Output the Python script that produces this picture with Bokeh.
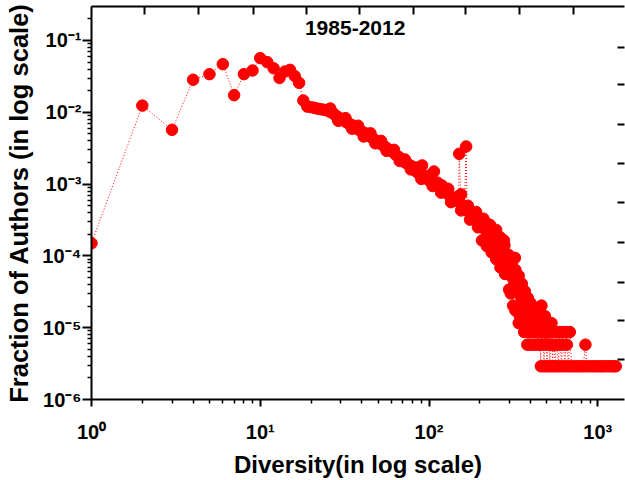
from bokeh.plotting import figure
from bokeh.models import LogAxis, FixedTicker, CustomJSTickFormatter, Label, Range1d
from bokeh.embed import file_html
from bokeh.resources import INLINE

# ---------------- data ----------------
early_x = list(range(1, 21))
early_y = [1.5e-4, 0.0124, 0.0057, 0.0284, 0.034, 0.0468, 0.0173, 0.034, 0.0382, 0.0568,
           0.050, 0.041, 0.030, 0.037, 0.039, 0.032, 0.0257, 0.0146, 0.0120, 0.0118]

band_x = [21, 22, 23, 24, 25, 26, 27, 28, 29, 30, 31, 32, 33, 34, 35, 36, 37, 38, 39, 40,
          42, 44, 46, 48, 50, 52, 54, 56, 58, 60, 63, 66, 69, 72, 75, 78, 81, 84, 87, 90, 93, 96, 100,
          104, 108, 112, 116, 120, 125, 130, 135, 140, 145, 150, 156, 162, 168, 174, 180, 186, 192, 198,
          204, 210, 216, 222, 228, 234, 240, 246, 252, 258, 264, 270, 276, 282, 288, 294, 300, 306, 312,
          318, 324, 330, 336, 342, 348, 354, 360, 366, 372, 378, 384, 390, 396, 402, 408]
band_y = [0.0115, 0.0112, 0.0110, 0.0108, 0.0106, 0.0101, 0.0097, 0.0090, 0.0085, 0.0081,
          0.0078, 0.0074, 0.0071, 0.0068, 0.0066, 0.0063, 0.0061, 0.0058, 0.0056, 0.0054,
          0.0051, 0.0047, 0.0044, 0.0041, 0.0038, 0.0036, 0.0034, 0.0032, 0.0030, 0.0029,
          0.0026, 0.0024, 0.0022, 0.0020, 0.0019, 0.0018, 0.0017, 0.0015, 0.0014, 0.0013, 0.0013, 0.0012,
          0.00113,
          0.00106, 0.00100, 0.00094, 0.00088, 0.00082, 0.00077, 0.00072, 0.00067, 0.00063, 0.00060,
          0.00057, 0.00052, 0.00047, 0.00043, 0.00040, 0.00037, 0.00035, 0.00033, 0.00030,
          0.00027, 0.00025, 0.00023, 0.00021, 0.00020, 0.00018, 0.00017, 0.00015, 0.00014, 0.00012,
          0.00011, 0.00010, 0.000093, 0.000084, 0.000075, 0.000066, 0.000060, 0.000055, 0.000050, 0.000046,
          0.000041, 0.000037, 0.000034, 0.000031, 0.000029, 0.000026, 0.000023, 0.000020, 0.000020, 0.000017,
          0.000017, 0.0000145, 0.0000145, 0.0000116, 0.0000116]

# points that make the band thicker (above / below its centre)
upper_x = [26, 32, 38, 45, 52, 62, 72, 84, 98, 112,
           130, 150, 170, 190, 210, 230, 250, 265, 280, 295, 310, 325, 340, 355, 370, 385, 400, 415]
upper_y = [0.0113, 0.0083, 0.0065, 0.0051, 0.0040, 0.0030, 0.0022, 0.0017, 0.0013, 0.00105,
           0.00086, 0.00068, 0.00050, 0.00041, 0.00033, 0.00027, 0.00023, 0.00018, 0.00014,
           0.000104, 0.000083, 0.000064, 0.000053, 0.000041, 0.000032, 0.000026, 0.000022, 0.000019]

lower_x = [29, 35, 41, 48, 56, 67, 78, 90, 105, 118,
           135, 155, 175, 195, 206, 220, 235, 250, 265, 282, 298, 305, 315, 325]
lower_y = [0.0076, 0.0059, 0.0046, 0.0037, 0.0029, 0.0021, 0.0016, 0.00118, 0.00094, 0.00076,
           0.00056, 0.00043, 0.00032, 0.00025, 0.000164, 0.000137, 0.000112, 0.00009, 0.000069,
           0.000056, 0.000034, 0.00003, 0.0000203, 0.0000174]

outlier_x = [91, 107, 119, 151, 155, 166, 221, 278, 323]
outlier_y = [0.00182, 0.0015, 0.00096, 0.00264, 0.00072, 0.00334, 0.00028, 0.000164, 0.000094]

tail_x = [330, 355, 380, 405, 432,
          350, 375, 464,
          345, 370, 400, 430, 461, 486,
          340, 360, 390, 415, 435, 450, 475, 495, 515, 532,
          366, 385, 402, 420, 445, 465, 485, 505, 525, 545, 570, 595, 620, 650, 683,
          382, 395, 410, 425, 440, 455, 470, 490, 510, 530, 550, 575, 600, 625, 656, 845,
          460, 480, 500, 520, 540, 560, 585, 610, 640, 670, 700, 730, 760, 790, 820, 860,
          900, 940, 980, 1020, 1060, 1100, 1150, 1200, 1240, 1279]
tail_y = [1.74e-5] * 5 + [2.03e-5] * 3 + [1.45e-5] * 6 + [1.16e-5] * 10 + \
         [8.7e-6] * 15 + [5.8e-6] * 16 + [2.9e-6] * 26

x_major = [1, 10, 100, 1000]
y_major = [1e-6, 1e-5, 1e-4, 1e-3, 1e-2, 1e-1]
top_ticks = [2.06, 4.30, 9.09, 18.7, 38.5, 80.4, 165.6, 345, 721]
right_ticks = [3.6e-6, 1.26e-5, 4.27e-5, 1.54e-4, 5.55e-4, 1.94e-3, 6.76e-3, 0.0244, 0.080]
title_text = "1985-2012"
x_title = "Diversity(in log scale)"
y_title = "Fraction of Authors (in log scale)"

# ---------------- assemble ----------------
pts = list(zip(early_x + band_x + upper_x + lower_x + outlier_x + tail_x,
               early_y + band_y + upper_y + lower_y + outlier_y + tail_y))
pts.sort(key=lambda t: t[0])
xs = [a for a, b in pts]
ys = [b for a, b in pts]

x_minor = [m * d for d in (1, 10, 100) for m in range(2, 10)]
y_minor = [m * d for d in (1e-6, 1e-5, 1e-4, 1e-3, 1e-2, 1e-1) for m in range(2, 10)]

FONT = "Liberation Sans"

p = figure(width=625, height=480, x_axis_type="log", y_axis_type="log",
           x_range=Range1d(1, 1440), y_range=Range1d(1e-6, 0.2974),
           output_backend="svg", toolbar_location=None,
           min_border_left=91, min_border_right=1, min_border_top=6, min_border_bottom=81)
p.outline_line_color = None
p.grid.visible = False
p.background_fill_color = "white"
p.border_fill_color = "white"

sup_fmt = CustomJSTickFormatter(code="""
const e = Math.round(Math.log10(tick));
const m = {"-": "\u207B", "0": "\u2070", "1": "\u00B9", "2": "\u00B2", "3": "\u00B3",
           "4": "\u2074", "5": "\u2075", "6": "\u2076", "7": "\u2077", "8": "\u2078", "9": "\u2079"};
return "10" + String(e).split("").map(c => m[c]).join("");
""")
empty_fmt = CustomJSTickFormatter(code="return '';")

xa = p.below[0]
ya = p.left[0]
for ax in (xa, ya):
    ax.formatter = sup_fmt
    ax.axis_line_width = 2
    ax.axis_line_color = "black"
    ax.major_tick_line_width = 2
    ax.minor_tick_line_width = 1.5
    ax.major_tick_in = 0
    ax.minor_tick_in = 0
    ax.minor_tick_out = 4
    ax.major_label_text_font = FONT
    ax.major_label_text_font_style = "bold"
    ax.major_label_text_font_size = "20px"
    ax.major_label_text_color = "black"
    ax.axis_label_text_font = FONT
    ax.axis_label_text_font_style = "bold"
    ax.axis_label_text_color = "black"

xa.ticker = FixedTicker(ticks=x_major, minor_ticks=x_minor)
xa.major_tick_out = 7
xa.major_label_standoff = 14
xa.axis_label = x_title
xa.axis_label_text_font_size = "24px"
xa.axis_label_standoff = 5

ya.ticker = FixedTicker(ticks=y_major, minor_ticks=y_minor)
ya.major_tick_out = 9
ya.major_label_standoff = 1
ya.axis_label = y_title
ya.axis_label_text_font_size = "25.5px"
ya.axis_label_standoff = 6

top = LogAxis(ticker=FixedTicker(ticks=top_ticks), formatter=empty_fmt,
              axis_line_width=2, axis_line_color="black",
              major_tick_in=8, major_tick_out=0, major_tick_line_width=2,
              minor_tick_in=0, minor_tick_out=0,
              major_label_text_font_size="0px", major_label_standoff=0)
p.add_layout(top, "above")

right = LogAxis(ticker=FixedTicker(ticks=right_ticks), formatter=empty_fmt,
                axis_line_color=None,
                major_tick_in=7, major_tick_out=0, major_tick_line_width=2,
                minor_tick_in=0, minor_tick_out=0,
                major_label_text_font_size="0px", major_label_standoff=0)
p.add_layout(right, "right")

p.line(xs, ys, line_color="red", line_width=1, line_dash="1 2")
p.scatter(xs, ys, marker="circle", size=11.5, fill_color="red", line_color="red")

p.add_layout(Label(x=36.5, y=0.147, text=title_text, text_font=FONT,
                   text_font_style="bold", text_font_size="21px", text_color="black",
                   text_align="center", text_baseline="middle"))

open("out.html", "w").write(file_html(p, INLINE))
